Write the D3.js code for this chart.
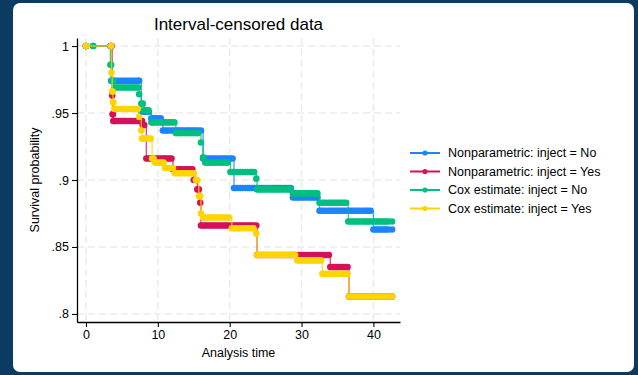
<!DOCTYPE html>
<html>
<head>
<meta charset="utf-8">
<script src="https://cdn.jsdelivr.net/npm/d3@7"></script>
<style>
  html, body { margin: 0; padding: 0; background: #0b3a62; }
  svg { display: block; font-family: "Liberation Sans", Arial, sans-serif; }
</style>
</head>
<body>
<div id="chart"></div>
<script>
// chart text
const chartTitle = 'Interval-censored data';
const xTitle = 'Analysis time';
const yTitle = 'Survival probability';
const xTicks = [0, 10, 20, 30, 40];
const yTicks = [0.8, 0.85, 0.9, 0.95, 1];
const yTickLabels = ['.8', '.85', '.9', '.95', '1'];
const seriesNames = ['Nonparametric: inject = No', 'Nonparametric: inject = Yes',
  'Cox estimate: inject = No', 'Cox estimate: inject = Yes'];
const seriesColors = ['#1a85ff', '#d41159', '#00bf7f', '#ffd400'];
const endTime = 42.6;

// step functions: time where the step starts, survival value from there on
const npNoTimes = [0, 3.5, 7.7, 9.1, 10.7, 16.3, 20.6, 28.8, 32.5, 40.0];
const npNoSurv = [1, .974, .951, .946, .937, .916, .894, .887, .877, .863];

const npYesTimes = [0, 3.65, 3.7, 3.8, 7.9, 8.4, 12.1, 15.0, 15.5, 15.9, 16.0, 23.8, 34.0, 36.6];
const npYesSurv = [1, .963, .949, .944, .941, .916, .908, .900, .893, .883, .866, .844, .835, .813];

const coxNoTimes = [0, 3.4, 3.6, 3.9, 7.4, 7.7, 8.1, 9.1, 12.5, 16.0, 16.3, 16.6, 20.1, 23.7, 23.8, 28.8, 32.5, 36.5];
const coxNoSurv = [1, .986, .974, .969, .964, .957, .952, .943, .935, .928, .917, .913, .906, .901, .893, .890, .883, .869];

const coxYesTimes = [0, 3.55, 3.65, 3.75, 3.95, 7.4, 7.7, 7.8, 9.2, 9.6, 11.0, 12.4, 15.3, 15.7, 16.0, 16.3, 20.3, 23.7, 23.8, 29.4, 32.9, 36.6];
const coxYesSurv = [1, .980, .966, .958, .953, .947, .937, .931, .916, .913, .909, .905, .900, .888, .875, .872, .864, .860, .844, .840, .830, .813];

// times where estimates are marked
const obsTimesNo = [0, 1.0, 3.4, 3.5, 3.6, 3.8, 4.0, 4.3, 4.6, 4.9, 5.2, 5.5, 5.8, 6.1, 6.4, 6.7, 7.0, 7.3,
  7.4, 7.7, 7.9, 8.1, 8.4, 8.7, 9.1, 9.4, 9.7, 10.0, 10.4, 10.7, 11.0, 11.3, 11.6, 12.0, 12.3, 12.5,
  12.8, 13.1, 13.4, 13.8, 14.1, 14.4, 14.7, 15.0, 15.3, 15.6, 16.0, 16.3, 16.6, 16.9, 17.2, 17.5,
  17.8, 18.1, 18.5, 18.8, 19.1, 19.4, 19.7, 20.1, 20.4, 20.6, 20.9, 21.2, 21.5, 21.8, 22.2, 22.5,
  22.8, 23.1, 23.4, 23.7, 23.8, 24.1, 24.4, 24.7, 25.0, 25.4, 25.7, 26.0, 26.3, 26.6, 26.9, 27.2,
  27.6, 27.9, 28.2, 28.5, 28.8, 29.1, 29.4, 29.7, 30.0, 30.3, 30.6, 31.0, 31.3, 31.6, 31.9, 32.2,
  32.5, 32.8, 33.1, 33.4, 33.8, 34.1, 34.4, 34.7, 35.0, 35.3, 35.6, 35.9, 36.2, 36.5, 36.8, 37.1,
  37.4, 37.7, 38.0, 38.4, 38.7, 39.0, 39.3, 39.6, 40.0, 40.3, 40.6, 40.9, 41.2, 41.5, 41.8, 42.1, 42.6];

const obsTimesYes = [0, 3.5, 3.55, 3.65, 3.7, 3.75, 3.8, 3.95, 4.2, 4.5, 4.8, 5.1, 5.4, 5.7, 6.0, 6.3,
  6.6, 6.9, 7.2, 7.4, 7.7, 7.8, 7.9, 8.1, 8.4, 8.7, 9.0, 9.2, 9.4, 9.6, 9.9, 10.2, 10.5, 10.8, 11.0,
  11.3, 11.6, 11.9, 12.1, 12.4, 12.7, 13.0, 13.3, 13.6, 13.9, 14.2, 14.5, 14.8, 15.0, 15.3, 15.5,
  15.7, 15.9, 16.0, 16.3, 16.6, 16.9, 17.2, 17.5, 17.8, 18.1, 18.4, 18.7, 19.0, 19.3, 19.6, 19.9,
  20.3, 20.6, 20.9, 21.2, 21.5, 21.8, 22.1, 22.4, 22.7, 23.0, 23.3, 23.7, 23.8, 24.1, 24.4, 24.7,
  25.0, 25.3, 25.6, 25.9, 26.2, 26.5, 26.8, 27.1, 27.4, 27.7, 28.0, 28.3, 28.6, 28.9, 29.1, 29.4,
  29.7, 30.0, 30.3, 30.6, 30.9, 31.2, 31.5, 31.8, 32.1, 32.4, 32.7, 32.9, 33.2, 33.5, 33.8, 34.0,
  34.3, 34.6, 34.9, 35.2, 35.5, 35.8, 36.1, 36.4, 36.6, 36.9, 37.2, 37.5, 37.8, 38.1, 38.4, 38.7,
  39.0, 39.3, 39.6, 39.9, 40.2, 40.5, 40.8, 41.1, 41.4, 41.7, 42.0, 42.3, 42.6];

const W = 638, H = 375;
const plot = {left: 77, right: 400, top: 38, bottom: 322};

const svg = d3.select('#chart').append('svg')
  .attr('width', W)
  .attr('height', H);

// white panel on the navy background
svg.append('rect')
  .attr('x', 13).attr('y', 3)
  .attr('width', 621).attr('height', 369)
  .attr('rx', 7)
  .attr('fill', '#ffffff');

const x = d3.scaleLinear().domain([-1.25, 43.7]).range([plot.left, plot.right]);
const y = d3.scaleLinear().domain([0.794, 1.006]).range([plot.bottom, plot.top]);

// grid
const grid = svg.append('g').attr('class', 'grid')
  .attr('stroke', '#ebebeb')
  .attr('stroke-width', 1.5)
  .attr('stroke-dasharray', '7,4');
grid.selectAll('.gx').data(xTicks).enter().append('line')
  .attr('x1', d => x(d)).attr('x2', d => x(d))
  .attr('y1', plot.top).attr('y2', plot.bottom);
grid.selectAll('.gy').data(yTicks).enter().append('line')
  .attr('x1', plot.left).attr('x2', plot.right)
  .attr('y1', d => y(d)).attr('y2', d => y(d));

// series
function stepAt(times, surv, t) {
  const i = d3.bisectRight(times, t) - 1;
  return surv[Math.max(0, i)];
}

const series = [
  {times: npNoTimes, surv: npNoSurv, obs: obsTimesNo},
  {times: npYesTimes, surv: npYesSurv, obs: obsTimesYes},
  {times: coxNoTimes, surv: coxNoSurv, obs: obsTimesNo},
  {times: coxYesTimes, surv: coxYesSurv, obs: obsTimesYes}
];

const line = d3.line()
  .x(d => x(d[0]))
  .y(d => y(d[1]))
  .curve(d3.curveStepAfter);

series.forEach((s, i) => {
  const pts = s.times.map((t, k) => [t, s.surv[k]]);
  pts.push([endTime, s.surv[s.surv.length - 1]]);
  const g = svg.append('g').attr('class', `series series${i + 1}`);
  g.append('path')
    .attr('d', line(pts))
    .attr('fill', 'none')
    .attr('stroke', seriesColors[i])
    .attr('stroke-width', 1.4)
    .attr('stroke-opacity', 0.75);
  g.selectAll('circle')
    .data(s.obs)
    .enter()
    .append('circle')
    .attr('cx', d => x(d))
    .attr('cy', d => y(stepAt(s.times, s.surv, d)))
    .attr('r', 3.3)
    .attr('fill', seriesColors[i]);
});

// axes
const yAxis = d3.axisLeft(y)
  .tickValues(yTicks)
  .tickFormat((d, i) => yTickLabels[i])
  .tickSize(5)
  .tickSizeOuter(0)
  .tickPadding(3);
const xAxis = d3.axisBottom(x)
  .tickValues(xTicks)
  .tickSize(5)
  .tickSizeOuter(0)
  .tickPadding(3);

const gy = svg.append('g')
  .attr('transform', `translate(${plot.left},0)`)
  .call(yAxis);
const gx = svg.append('g')
  .attr('transform', `translate(0,${plot.bottom})`)
  .call(xAxis);
[gx, gy].forEach(g => {
  g.select('.domain').attr('stroke', '#000').attr('stroke-width', 1.3);
  g.selectAll('.tick line').attr('stroke', '#000').attr('stroke-width', 1.1);
  g.selectAll('.tick text')
    .attr('fill', '#000')
    .style('font-family', '"Liberation Sans", Arial, sans-serif')
    .style('font-size', '12.5px');
});

// titles
svg.append('text')
  .attr('x', (plot.left + plot.right) / 2)
  .attr('y', 30)
  .attr('text-anchor', 'middle')
  .style('font-size', '17px')
  .attr('fill', '#000')
  .text(chartTitle);

svg.append('text')
  .attr('x', (plot.left + plot.right) / 2)
  .attr('y', 357)
  .attr('text-anchor', 'middle')
  .style('font-size', '12.5px')
  .attr('fill', '#000')
  .text(xTitle);

svg.append('text')
  .attr('transform', `translate(39,${(plot.top + plot.bottom) / 2}) rotate(-90)`)
  .attr('text-anchor', 'middle')
  .style('font-size', '12.5px')
  .attr('fill', '#000')
  .text(yTitle);

// legend
const legend = svg.append('g').attr('class', 'legend');
const rows = legend.selectAll('g')
  .data(seriesNames)
  .enter()
  .append('g')
  .attr('transform', (d, i) => `translate(410,${153 + i * 18.5})`);
rows.append('line')
  .attr('x1', 0).attr('x2', 30)
  .attr('stroke', (d, i) => seriesColors[i])
  .attr('stroke-width', 2);
rows.append('circle')
  .attr('cx', 15).attr('r', 2.6)
  .attr('fill', (d, i) => seriesColors[i]);
rows.append('text')
  .attr('x', 38)
  .attr('dy', '0.35em')
  .style('font-size', '12.5px')
  .attr('fill', '#000')
  .text(d => d);
</script>
</body>
</html>
